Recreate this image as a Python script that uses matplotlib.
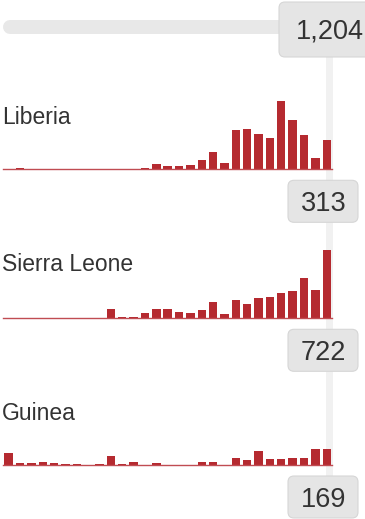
import matplotlib
matplotlib.use("Agg")
import matplotlib.pyplot as plt
from matplotlib.patches import FancyBboxPatch

# ---- data (weekly cases) ----
countries = ["Liberia", "Sierra Leone", "Guinea"]
liberia = [0, 12, 6, 0, 6, 0, 0, 0, 0, 0, 0, 6, 12, 55, 30, 30, 45, 100, 185, 70,
           415, 430, 375, 330, 725, 520, 365, 120, 313]
sierra_leone = [0, 0, 0, 0, 0, 0, 0, 0, 0, 95, 10, 10, 60, 95, 100, 68, 60, 90, 170, 46,
                190, 150, 214, 225, 268, 292, 421, 296, 722]
guinea = [125, 18, 18, 35, 18, 14, 14, 0, 10, 90, 10, 35, 0, 20, 0, 0, 0, 35, 35, 5,
          75, 53, 150, 60, 64, 72, 72, 169, 169]
series = [liberia, sierra_leone, guinea]

W, H = 365, 519
fig = plt.figure(figsize=(W / 100, H / 100), dpi=100)
fig.patch.set_facecolor("white")

# background overlay in pixel coords
bg = fig.add_axes([0, 0, 1, 1], zorder=0)
bg.set_xlim(0, W)
bg.set_ylim(H, 0)
bg.axis("off")

px = 72 / 100  # points per pixel
FONT = ["Liberation Sans", "DejaVu Sans"]
TXT = "#333333"
BAR = "#b52a30"

# slider track
bg.plot([10, 278], [27, 27], lw=14 * px, color="#e8e8e8", solid_capstyle="round", zorder=1)
# vertical current-position line
bg.plot([329, 329], [50, 485], lw=7 * px, color="#f1f1f1", solid_capstyle="butt", zorder=1)

# top total box
total = sum(s[-1] for s in series)
bg.add_patch(FancyBboxPatch((279, 2), 100, 55, boxstyle="round,pad=0,rounding_size=6",
                            fc="#e5e5e5", ec="#d6d6d6", lw=0.8, zorder=3))
bg.text(329.5, 39, f"{total:,}", ha="center", va="baseline", fontsize=19.5,
        family=FONT, color=TXT, zorder=4)

baselines = [169.3, 318.3, 465.0]
label_base = [124, 271, 420]
K = 722 / 68.3  # units per pixel
AX_H = 75  # axes height in px
x0, x1 = 3.0, 332.4

for name, vals, base, lb in zip(countries, series, baselines, label_base):
    ax = fig.add_axes([x0 / W, (H - base) / H, (x1 - x0) / W, AX_H / H], zorder=2)
    ax.patch.set_alpha(0)
    n = len(vals)
    ax.set_xlim(-0.5, n - 0.5)
    ax.set_ylim(0, AX_H * K)
    ax.bar(range(n), vals, width=0.74, color=BAR, edgecolor="none")
    ax.axhline(0, color="#c04c52", lw=1.0, clip_on=False)
    ax.axis("off")

    bg.text(2, lb, name, ha="left", va="baseline", fontsize=16.5, family=FONT, color=TXT)
    # value box
    bg.add_patch(FancyBboxPatch((288, base + 11), 70, 42, boxstyle="round,pad=0,rounding_size=6",
                                fc="#e5e5e5", ec="#d6d6d6", lw=0.8, zorder=3))
    bg.text(323.5, base + 42, f"{vals[-1]:,}", ha="center", va="baseline", fontsize=19.5,
            family=FONT, color=TXT, zorder=4)

fig.savefig("out.png", dpi=100, facecolor="white")
